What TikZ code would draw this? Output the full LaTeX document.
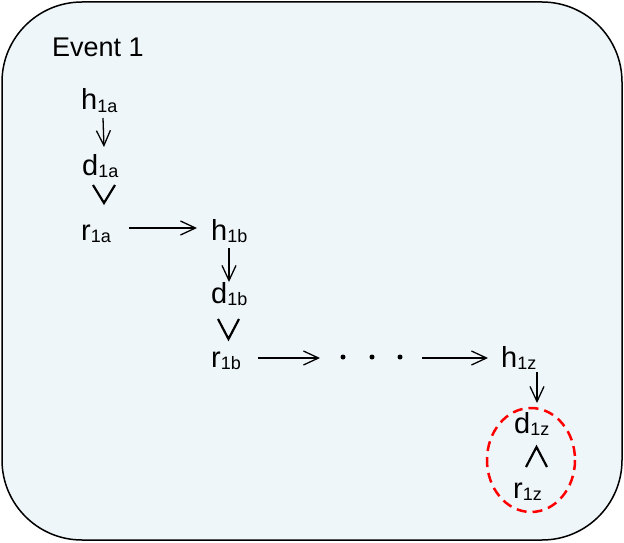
\documentclass[tikz,border=0pt]{standalone}
\usepackage{fontspec}
\setmainfont{Liberation Sans}
\usetikzlibrary{arrows.meta}
\newcommand\subtxt[1]{\raisebox{-2pt}{\fontsize{18}{18}\selectfont #1}}
\definecolor{panel}{HTML}{EFF6F9}
\tikzset{
  lbl/.style={inner sep=0pt, anchor=base west, font=\fontsize{29}{29}\selectfont},
  arr/.style={line width=1.3pt, -{Straight Barb[length=15pt,width=14pt,line width=1.3pt]}},
  chev/.style={line width=2.2pt, line join=miter},
  ring/.style={red, line width=2.5pt, dash pattern=on 10pt off 6pt},
  dotmark/.style={circle, fill=black, inner sep=0pt, minimum size=5pt}
}
\begin{document}
\begin{tikzpicture}[x=1pt, y=-1pt]
\useasboundingbox (0,0) rectangle (624,543);
% event panel
\draw[fill=panel, line width=1.5pt, rounded corners=80pt] (2,2) rectangle (622,540);
\node[lbl, font=\fontsize{27}{27}\selectfont] (title) at (52,57) {Event 1};

% first column
\node[lbl] (h1a) at (81,110) {h\subtxt{1a}};
\node[lbl] (d1a) at (82,175) {d\subtxt{1a}};
\node[lbl] (r1a) at (81,240) {r\subtxt{1a}};

% second column
\node[lbl] (h1b) at (211,240) {h\subtxt{1b}};
\node[lbl] (d1b) at (211,303) {d\subtxt{1b}};
\node[lbl] (r1b) at (211,367) {r\subtxt{1b}};

% ellipsis
\node[dotmark] (dot1) at (343,357) {};
\node[dotmark] (dot2) at (372,357) {};
\node[dotmark] (dot3) at (400,357) {};

% last column
\node[lbl] (h1z) at (501,367) {h\subtxt{1z}};
\node[lbl] (d1z) at (514,433) {d\subtxt{1z}};
\node[lbl] (r1z) at (513,498) {r\subtxt{1z}};

% connectors
\draw[arr] ([shift={(22,8)}]h1a.base west) -- ([shift={(22,-28)}]d1a.base west);
\draw[arr] ([shift={(48,-12)}]r1a.base west) -- ([shift={(-14,-12)}]h1b.base west);
\draw[arr] ([shift={(18,8)}]h1b.base west) -- ([shift={(18,-21)}]d1b.base west);
\draw[arr] ([shift={(47,-9)}]r1b.base west) -- ([shift={(-23,1)}]dot1.center);
\draw[arr] ([shift={(22,1)}]dot3.center) -- ([shift={(-13,-9)}]h1z.base west);
\draw[arr] ([shift={(36,5)}]h1z.base west) -- ([shift={(23,-30)}]d1z.base west);

% chevrons between d and r
\coordinate (v1) at (104,194);
\coordinate (v2) at (228.5,329);
\coordinate (v3) at (536.5,457);
\draw[chev] ([shift={(-11,-9)}]v1) -- ([shift={(0,9)}]v1) -- ([shift={(11,-9)}]v1);
\draw[chev] ([shift={(-10.5,-10)}]v2) -- ([shift={(0,10)}]v2) -- ([shift={(10.5,-10)}]v2);
\draw[chev] ([shift={(-10.5,10)}]v3) -- ([shift={(0,-10)}]v3) -- ([shift={(10.5,10)}]v3);

% highlight around the last pair
\draw[ring] (531,460) ellipse [x radius=44, y radius=52];
\end{tikzpicture}
\end{document}
